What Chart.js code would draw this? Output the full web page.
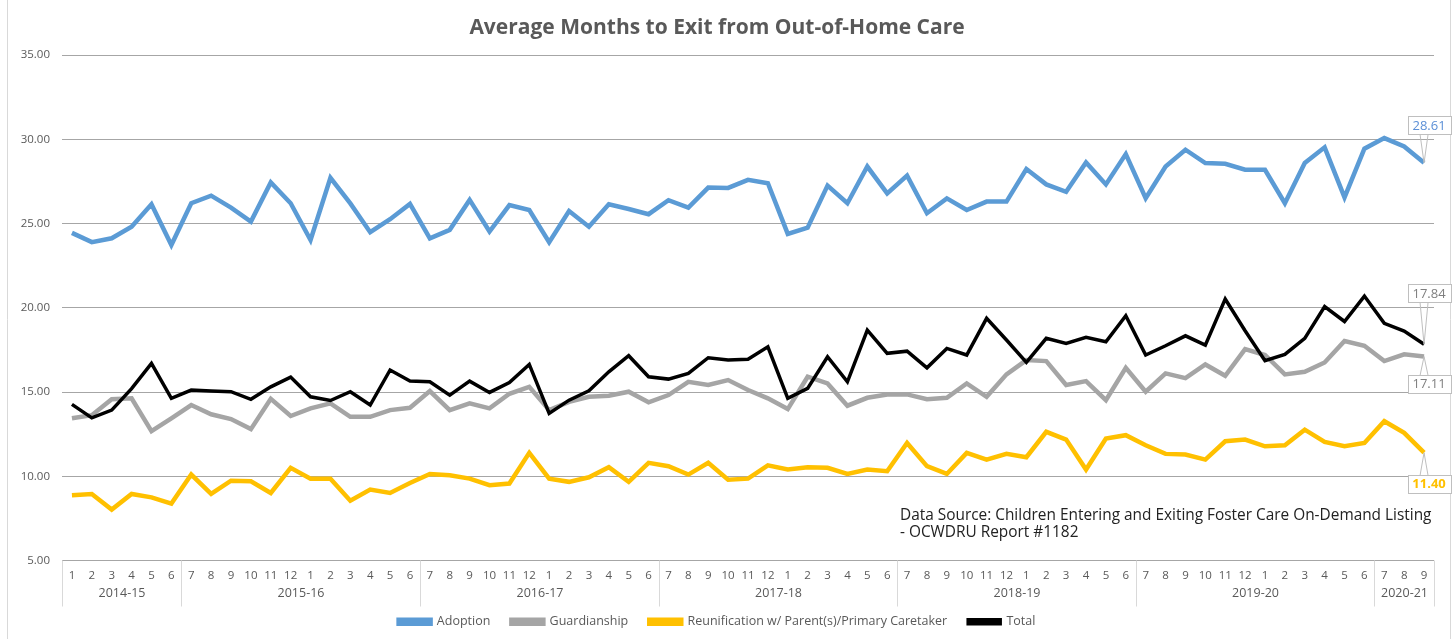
<!DOCTYPE html>
<html>
<head>
<meta charset="utf-8">
<title>Average Months to Exit from Out-of-Home Care</title>
<script src="https://cdn.jsdelivr.net/npm/chart.js@4.4.1/dist/chart.umd.min.js"></script>
<style>
  html, body { margin: 0; padding: 0; background: #fff; }
  #wrap { width: 1453px; height: 639px; position: relative; }
</style>
</head>
<body>
<div id="wrap"><canvas id="exit-chart" width="1453" height="639"></canvas></div>
<script>
// fiscal years on the lower axis row and how many months each one covers
const fiscalYears = ['2014-15', '2015-16', '2016-17', '2017-18', '2018-19', '2019-20', '2020-21'];
const monthsPerYear = [6, 12, 12, 12, 12, 12, 3];

const monthLabels = [
  '1', '2', '3', '4', '5', '6',
  '7', '8', '9', '10', '11', '12', '1', '2', '3', '4', '5', '6',
  '7', '8', '9', '10', '11', '12', '1', '2', '3', '4', '5', '6',
  '7', '8', '9', '10', '11', '12', '1', '2', '3', '4', '5', '6',
  '7', '8', '9', '10', '11', '12', '1', '2', '3', '4', '5', '6',
  '7', '8', '9', '10', '11', '12', '1', '2', '3', '4', '5', '6',
  '7', '8', '9'
];

const adoption = [
  24.45, 23.90, 24.13, 24.82, 26.15, 23.73,
  26.21, 26.66, 25.95, 25.12, 27.45, 26.21, 24.03, 27.72, 26.20, 24.49, 25.26, 26.17,
  24.13, 24.63, 26.41, 24.53, 26.10, 25.81, 23.90, 25.75, 24.82, 26.15, 25.87, 25.56,
  26.39, 25.95, 27.14, 27.12, 27.60, 27.40, 24.39, 24.76, 27.26, 26.21, 28.39, 26.80,
  27.85, 25.62, 26.50, 25.81, 26.31, 26.31, 28.24, 27.33, 26.89, 28.63, 27.33, 29.13,
  26.51, 28.39, 29.39, 28.60, 28.55, 28.20, 28.20, 26.21, 28.60, 29.53, 26.56, 29.45,
  30.08, 29.58, 28.61
];

const guardianship = [
  13.44, 13.63, 14.58, 14.63, 12.68, 13.44,
  14.23, 13.68, 13.40, 12.80, 14.60, 13.58, 14.03, 14.33, 13.53, 13.53, 13.93, 14.07,
  15.06, 13.93, 14.33, 14.03, 14.90, 15.31, 13.93, 14.42, 14.72, 14.78, 15.02, 14.39,
  14.82, 15.61, 15.42, 15.71, 15.12, 14.63, 13.99, 15.91, 15.51, 14.19, 14.66, 14.86,
  14.86, 14.58, 14.66, 15.51, 14.72, 16.05, 16.90, 16.84, 15.42, 15.65, 14.52, 16.44,
  15.02, 16.11, 15.83, 16.64, 15.97, 17.55, 17.20, 16.05, 16.20, 16.76, 18.03, 17.75,
  16.84, 17.24, 17.11
];

const reunification = [
  8.87, 8.95, 8.02, 8.95, 8.75, 8.38,
  10.10, 8.95, 9.74, 9.70, 9.01, 10.50, 9.86, 9.86, 8.55, 9.21, 9.01, 9.60,
  10.14, 10.06, 9.86, 9.47, 9.57, 11.39, 9.86, 9.67, 9.94, 10.54, 9.67, 10.80,
  10.60, 10.10, 10.80, 9.80, 9.86, 10.65, 10.40, 10.54, 10.50, 10.14, 10.40, 10.30,
  11.98, 10.60, 10.14, 11.39, 10.99, 11.33, 11.13, 12.64, 12.18, 10.40, 12.24, 12.44,
  11.84, 11.33, 11.29, 10.99, 12.08, 12.18, 11.78, 11.84, 12.77, 12.04, 11.78, 11.98,
  13.27, 12.58, 11.40
];

const total = [
  14.27, 13.47, 13.93, 15.20, 16.70, 14.63,
  15.12, 15.06, 15.02, 14.57, 15.31, 15.89, 14.72, 14.50, 15.02, 14.23, 16.31, 15.65,
  15.61, 14.82, 15.65, 14.98, 15.56, 16.64, 13.73, 14.52, 15.08, 16.20, 17.16, 15.91,
  15.77, 16.11, 17.04, 16.90, 16.95, 17.69, 14.63, 15.22, 17.10, 15.61, 18.68, 17.30,
  17.43, 16.44, 17.59, 17.20, 19.38, 18.09, 16.76, 18.19, 17.89, 18.25, 17.99, 19.53,
  17.20, 17.75, 18.34, 17.79, 20.52, 18.64, 16.86, 17.24, 18.19, 20.08, 19.19, 20.70,
  19.08, 18.62, 17.84
];

const yTicks = [5, 10, 15, 20, 25, 30, 35];

const sourceNote = [
  'Data Source: Children Entering and Exiting Foster Care On-Demand Listing',
  '- OCWDRU Report #1182'
];

const FONT = '"Open Sans", Lato, sans-serif';
const TEXT_GREY = '#595959';
const AXIS_LINE = '#d9d9d9';

// white page plus the thin outline at both sides
const background = {
  id: 'background',
  beforeDraw(chart) {
    const { ctx, width, height } = chart;
    ctx.save();
    ctx.fillStyle = '#fff';
    ctx.fillRect(0, 0, width, height);
    ctx.strokeStyle = AXIS_LINE;
    ctx.lineWidth = 1;
    ctx.beginPath();
    ctx.moveTo(7.5, 0); ctx.lineTo(7.5, height);
    ctx.moveTo(width - 2.5, 0); ctx.lineTo(width - 2.5, height);
    ctx.stroke();
    ctx.restore();
  }
};

// second row of the category axis: fiscal year names between separators
const fiscalYearAxis = {
  id: 'fiscalYearAxis',
  afterDraw(chart) {
    const { ctx, chartArea } = chart;
    const x = chart.scales.x;
    const half = (x.getPixelForValue(1) - x.getPixelForValue(0)) / 2;
    const top = chartArea.bottom;
    const bottom = top + 46;
    ctx.save();
    ctx.strokeStyle = AXIS_LINE;
    ctx.lineWidth = 1;
    ctx.fillStyle = TEXT_GREY;
    ctx.font = '12.5px ' + FONT;
    ctx.textAlign = 'center';
    ctx.textBaseline = 'middle';
    let start = 0;
    fiscalYears.forEach((fy, i) => {
      const end = start + monthsPerYear[i] - 1;
      const left = Math.round(x.getPixelForValue(start) - half) + 0.5;
      const right = Math.round(x.getPixelForValue(end) + half) + 0.5;
      ctx.beginPath();
      ctx.moveTo(left, top); ctx.lineTo(left, bottom);
      if (i === fiscalYears.length - 1) { ctx.moveTo(right, top); ctx.lineTo(right, bottom); }
      ctx.stroke();
      ctx.fillText(fy, (left + right) / 2, top + 33);
      start = end + 1;
    });
    ctx.restore();
  }
};

// callouts with the latest value of each series
const endLabels = {
  id: 'endLabels',
  afterDatasetsDraw(chart, args, opts) {
    const { ctx } = chart;
    ctx.save();
    chart.data.datasets.forEach((ds, di) => {
      const style = opts.items[di];
      const meta = chart.getDatasetMeta(di);
      const last = ds.data.length - 1;
      const pt = meta.data[last];
      const text = ds.data[last].toFixed(2);
      ctx.font = (style.bold ? 'bold ' : '') + '13px ' + FONT;
      const w = 43, h = 18;
      const cx = pt.x + 5, cy = pt.y + style.dy;
      const bx = Math.round(cx - w / 2) + 0.5, by = Math.round(cy - h / 2) + 0.5;
      const edge = style.dy < 0 ? by + h : by;
      ctx.fillStyle = '#fff';
      ctx.strokeStyle = '#bfbfbf';
      ctx.lineWidth = 1;
      ctx.fillRect(bx, by, w, h);
      ctx.strokeRect(bx, by, w, h);
      ctx.beginPath();
      ctx.moveTo(pt.x - 4, edge);
      ctx.lineTo(pt.x, pt.y);
      ctx.lineTo(pt.x + 4, edge);
      ctx.stroke();
      ctx.fillStyle = style.color;
      ctx.textAlign = 'center';
      ctx.textBaseline = 'middle';
      ctx.fillText(text, cx, cy + 1);
    });
    ctx.restore();
  }
};

const sourceText = {
  id: 'sourceText',
  afterDraw(chart) {
    const { ctx } = chart;
    ctx.save();
    ctx.fillStyle = '#222';
    ctx.font = '15.4px ' + FONT;
    ctx.textBaseline = 'middle';
    ctx.fillText(sourceNote[0], 900, 516);
    ctx.fillText(sourceNote[1], 900, 533);
    ctx.restore();
  }
};

const line = (label, data, color, width, order) => ({
  label, data, order,
  borderColor: color,
  backgroundColor: color,
  borderWidth: width,
  pointRadius: 0,
  tension: 0,
  fill: false
});

new Chart(document.getElementById('exit-chart'), {
  type: 'line',
  data: {
    labels: monthLabels,
    datasets: [
      line('Adoption', adoption, '#5b9bd5', 4.5, 4),
      line('Guardianship', guardianship, '#a5a5a5', 4.5, 3),
      line('Reunification w/ Parent(s)/Primary Caretaker', reunification, '#ffc000', 4.5, 2),
      line('Total', total, '#000000', 3.5, 1)
    ]
  },
  options: {
    responsive: false,
    animation: false,
    devicePixelRatio: 1,
    layout: { padding: { left: 0, right: 19, top: 0, bottom: 1 } },
    plugins: {
      title: {
        display: true,
        text: 'Average Months to Exit from Out-of-Home Care',
        color: TEXT_GREY,
        font: { family: FONT, size: 21, weight: 'bold' },
        padding: { top: 15, bottom: 15 }
      },
      legend: {
        position: 'bottom',
        labels: {
          sort: (a, b) => a.datasetIndex - b.datasetIndex,
          boxWidth: 32,
          boxHeight: 4,
          padding: 21,
          color: TEXT_GREY,
          font: { family: FONT, size: 12.5 }
        }
      },
      tooltip: { enabled: false },
      endLabels: {
        items: [
          { dy: -38, color: '#5b8fd6', bold: false },
          { dy: 27, color: '#7f7f7f', bold: false },
          { dy: 31, color: '#ffc000', bold: true },
          { dy: -51, color: '#7f7f7f', bold: false }
        ]
      }
    },
    scales: {
      x: {
        offset: true,
        grid: { display: false, drawTicks: false },
        border: { display: false },
        ticks: {
          autoSkip: false, maxRotation: 0, minRotation: 0, padding: 8,
          color: TEXT_GREY, font: { family: FONT, size: 11.5 }
        },
        afterFit: (scale) => { scale.height = 34; }
      },
      y: {
        min: 5,
        max: 35,
        afterBuildTicks: (scale) => { scale.ticks = yTicks.map(v => ({ value: v })); },
        grid: { color: '#a6a6a6', drawTicks: false },
        border: { display: false },
        ticks: {
          padding: 12,
          color: TEXT_GREY,
          font: { family: FONT, size: 11.5 },
          callback: (v) => Number(v).toFixed(2)
        },
        afterFit: (scale) => { scale.width = 62; }
      }
    }
  },
  plugins: [background, fiscalYearAxis, endLabels, sourceText]
});
</script>
</body>
</html>
